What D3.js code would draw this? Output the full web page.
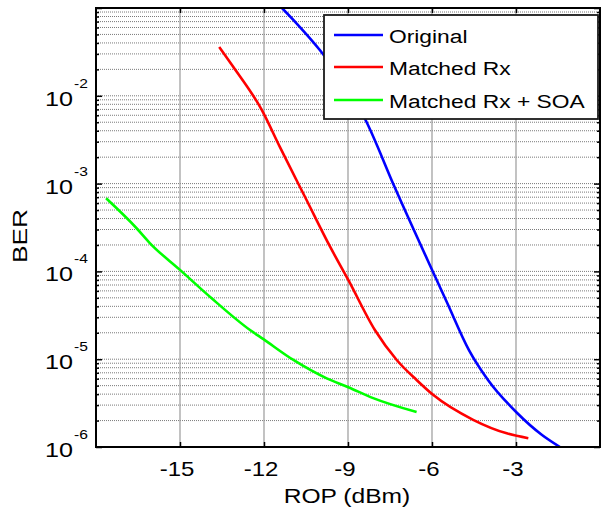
<!DOCTYPE html>
<html>
<head>
<meta charset="utf-8">
<script src="https://cdn.jsdelivr.net/npm/d3@7"></script>
<style>
  html, body { margin: 0; padding: 0; background: #fff; }
  svg { display: block; font-family: "Liberation Sans", Arial, sans-serif; }
</style>
</head>
<body>
<svg id="chart" width="602" height="509"></svg>
<script>
// ROP (dBm) vs BER for the three receiver configurations
const ropOriginal = [-11.36, -10.84, -10.0, -8.36, -7.32, -5.96, -5.46, -4.68, -4.0, -2.96, -2.07, -1.43];
const berOriginal = [1.0e-1, 6.7e-2, 3.3e-2, 5.2e-3, 8.9e-4, 9.8e-5, 4.4e-5, 1.27e-5, 5.8e-6, 2.44e-6, 1.37e-6, 1.0e-6];

const ropMatched = [-13.6, -13.1, -12.08, -11.43, -10.48, -9.64, -8.99, -8.04, -7.26, -6.55, -5.95, -4.53, -3.33, -2.56];
const berMatched = [3.6e-2, 2.14e-2, 6.9e-3, 2.6e-3, 6.5e-4, 1.91e-4, 8.0e-5, 2.15e-5, 9.8e-6, 5.8e-6, 3.9e-6, 2.04e-6, 1.43e-6, 1.26e-6];

const ropSoa = [-17.64, -16.55, -16.07, -15.0, -13.87, -12.5, -12.02, -10.95, -9.76, -8.99, -8.1, -6.55];
const berSoa = [6.8e-4, 3.1e-4, 2.09e-4, 1.04e-4, 4.94e-5, 2.15e-5, 1.69e-5, 9.8e-6, 6.05e-6, 4.8e-6, 3.6e-6, 2.5e-6];

const seriesNames = ["Original", "Matched Rx", "Matched Rx + SOA"];
const seriesColors = ["#0000ff", "#ff0000", "#00ff00"];

const xTicks = [-15, -12, -9, -6, -3];
const yExponents = [-6, -5, -4, -3, -2];

const series = [
  { name: seriesNames[0], color: seriesColors[0], x: ropOriginal, y: berOriginal },
  { name: seriesNames[1], color: seriesColors[1], x: ropMatched, y: berMatched },
  { name: seriesNames[2], color: seriesColors[2], x: ropSoa, y: berSoa }
];

const svg = d3.select("#chart");
const L = 96, R = 600, T = 8, B = 447;

const x = d3.scaleLinear().domain([-18, 0]).range([L, R]);
const y = d3.scaleLog().domain([1e-6, 1e-1]).range([B, T]);

// text drawn slightly widened horizontally
const SX = 1.2;
function label(g, px, py, str, size, anchor, rot, sx) {
  return g.append("text")
    .attr("transform", `translate(${px},${py}) rotate(${rot || 0}) scale(${sx || SX},1)`)
    .attr("text-anchor", anchor)
    .attr("font-size", size)
    .attr("fill", "#000")
    .text(str);
}

// grid
const grid = svg.append("g");
grid.selectAll("line.hg").data(y.ticks()).join("line")
  .attr("class", "hg")
  .attr("x1", L).attr("x2", R)
  .attr("y1", d => y(d)).attr("y2", d => y(d))
  .attr("stroke", "#7a7a7a").attr("stroke-width", 1)
  .attr("stroke-dasharray", "1,1");
grid.selectAll("line.vg").data(xTicks).join("line")
  .attr("class", "vg")
  .attr("x1", d => x(d)).attr("x2", d => x(d))
  .attr("y1", T).attr("y2", B)
  .attr("stroke", "#9a9a9a").attr("stroke-width", 1.2);

// curves
svg.append("clipPath").attr("id", "plotclip")
  .append("rect").attr("x", L).attr("y", T).attr("width", R - L).attr("height", B - T);

const line = d3.line().x(d => x(d[0])).y(d => y(d[1])).curve(d3.curveMonotoneX);
svg.append("g").attr("clip-path", "url(#plotclip)")
  .selectAll("path").data(series).join("path")
  .attr("d", s => line(s.x.map((v, i) => [v, s.y[i]])))
  .attr("fill", "none")
  .attr("stroke", s => s.color)
  .attr("stroke-width", 2.6)
  .attr("stroke-linejoin", "round");

// axes with inward ticks
const isDecade = v => Math.abs(Math.log10(v) - Math.round(Math.log10(v))) < 1e-9;
const minorTicks = y.ticks().filter(v => !isDecade(v));
const majorTicks = y.ticks().filter(isDecade);

function styleAxis(g) {
  g.select(".domain").remove();
  g.selectAll("text").remove();
  g.selectAll("line").attr("stroke", "#000").attr("stroke-width", 1.5);
}
svg.append("g").attr("transform", `translate(${L},0)`)
  .call(d3.axisLeft(y).tickValues(majorTicks).tickSize(-6)).call(styleAxis);
svg.append("g").attr("transform", `translate(${L},0)`)
  .call(d3.axisLeft(y).tickValues(minorTicks).tickSize(-3)).call(styleAxis);
svg.append("g").attr("transform", `translate(${R},0)`)
  .call(d3.axisRight(y).tickValues(majorTicks).tickSize(-6)).call(styleAxis);
svg.append("g").attr("transform", `translate(${R},0)`)
  .call(d3.axisRight(y).tickValues(minorTicks).tickSize(-3)).call(styleAxis);
svg.append("g").attr("transform", `translate(0,${B})`)
  .call(d3.axisBottom(x).tickValues(xTicks).tickSize(-5)).call(styleAxis);
svg.append("g").attr("transform", `translate(0,${T})`)
  .call(d3.axisTop(x).tickValues(xTicks).tickSize(-5)).call(styleAxis);

// axis box
svg.append("rect")
  .attr("x", L).attr("y", T).attr("width", R - L).attr("height", B - T)
  .attr("fill", "none").attr("stroke", "#000").attr("stroke-width", 2);

// tick labels
const lbl = svg.append("g");
xTicks.forEach(t => label(lbl, x(t) - 3, 476, String(t), 20, "middle"));
yExponents.forEach(e => {
  const py = y(Math.pow(10, e));
  label(lbl, 73, py + 10, "10", 21, "end");
  label(lbl, 74, py - 8, String(e), 13, "start");
});

// axis titles
label(lbl, 347, 503, "ROP (dBm)", 20.5, "middle");
label(lbl, 27, 236, "BER", 21, "middle", -90, 1.25);

// legend
const leg = svg.append("g");
leg.append("rect")
  .attr("x", 324).attr("y", 15).attr("width", 274).attr("height", 104)
  .attr("fill", "#fff").attr("stroke", "#1a1a1a").attr("stroke-width", 1.8);
const legRows = [35, 67, 100];
series.forEach((s, i) => {
  leg.append("line")
    .attr("x1", 334).attr("x2", 383)
    .attr("y1", legRows[i]).attr("y2", legRows[i])
    .attr("stroke", s.color).attr("stroke-width", 2.6);
  label(leg, 389, legRows[i] + 8, s.name, 19, "start");
});
</script>
</body>
</html>
